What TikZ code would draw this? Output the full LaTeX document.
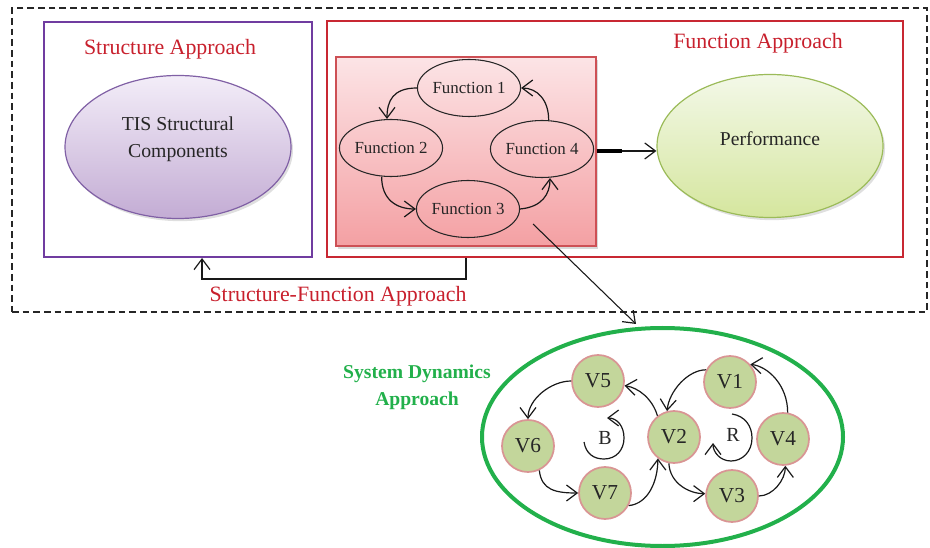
\documentclass[tikz,border=0pt]{standalone}
\usepackage{fontspec}
\setmainfont{Liberation Serif}
\usetikzlibrary{shapes.geometric,arrows.meta,fit,shadows}
\definecolor{appred}{RGB}{200,32,45}
\definecolor{boxred}{RGB}{200,40,50}
\definecolor{boxpurple}{RGB}{112,60,160}
\definecolor{tisline}{RGB}{128,96,165}
\definecolor{tistop}{RGB}{243,237,248}
\definecolor{tisbot}{RGB}{195,172,212}
\definecolor{perfline}{RGB}{155,187,89}
\definecolor{perftop}{RGB}{243,248,232}
\definecolor{perfbot}{RGB}{213,230,158}
\definecolor{pinkline}{RGB}{205,80,85}
\definecolor{pinktop}{RGB}{252,228,230}
\definecolor{pinkbot}{RGB}{244,160,163}
\definecolor{sdgreen}{RGB}{34,176,75}
\definecolor{vfill}{RGB}{195,214,155}
\definecolor{vline}{RGB}{217,149,148}
\begin{document}
\begin{tikzpicture}[x=0.75pt,y=-0.75pt,
  barb/.style={-{Straight Barb[length=8pt,width=12pt,line width=0.9pt]}},
  conn/.style={draw=black!90,line width=0.9pt,barb},
  fn/.style={ellipse,draw=black!85,line width=0.8pt,minimum width=73.5pt,
    minimum height=42.75pt,inner sep=0pt,text=black!85,
    font=\fontsize{12.7}{15}\selectfont},
  var/.style={circle,fill=vfill,draw=vline,line width=1.3pt,minimum size=39pt,
    inner sep=0pt,text=black!85,font=\fontsize{16}{19}\selectfont},
  lbl/.style={text=appred,font=\fontsize{16.4}{19}\selectfont},
  bigoval/.style={ellipse,minimum width=169.5pt,minimum height=107.25pt,
    inner sep=0pt,line width=0.9pt,
    drop shadow={opacity=0.25,shadow xshift=1.5pt,shadow yshift=-2pt}},
  tick/.style={line width=2.2pt}]
\useasboundingbox (0,0) rectangle (930,548);

% outer dashed frame
\node[fit={(12,8) (927,312)},inner sep=0pt,draw=black!85,line width=1.1pt,
  dash pattern=on 5pt off 3pt] (outer) {};

% structure and function frames
\node[fit={(44,22) (312,257)},inner sep=0pt,draw=boxpurple,line width=1.5pt] (sabox) {};
\node[fit={(327,21) (903,257)},inner sep=0pt,draw=boxred,line width=1.5pt] (fabox) {};
\node[lbl] (satitle) at (170,49) {Structure Approach};
\node[lbl] (fatitle) at (758,43) {Function Approach};

% structural components
\node[bigoval,draw=tisline,top color=tistop,bottom color=tisbot] (tis) at (178,147) {};
\node[text=black!85,align=center,font=\fontsize{14.8}{20}\selectfont] (tistext) at (178,139)
  {TIS Structural\\Components};

% function cycle
\node[fit={(336,57) (596,246)},inner sep=0pt,draw=pinkline,line width=0.8pt,
  top color=pinktop,bottom color=pinkbot,
  drop shadow={opacity=0.3,shadow xshift=1.5pt,shadow yshift=-2pt}] (fbox) {};
\node[fn] (f1) at (469,88) {Function 1};
\node[fn] (f2) at (391,148) {Function 2};
\node[fn] (f4) at (542,149) {Function 4};
\node[fn] (f3) at (468,209) {Function 3};
\draw[conn] (f1.west) .. controls +(-24,0) and +(0,-18) .. ([xshift=-3pt]f2.north);
\draw[conn] ([xshift=-7pt]f2.south) .. controls +(0,22) and +(-20,0) .. (f3.west);
\draw[conn] (f3.east) .. controls +(22,-2) and +(0,16) .. ([xshift=6pt]f4.south);
\draw[conn] ([xshift=5pt]f4.north) .. controls +(0,-20) and +(16,0) .. (f1.east);

% performance
\node[bigoval,draw=perfline,top color=perftop,bottom color=perfbot] (perf) at (770,146) {};
\node[text=black!85,font=\fontsize{14.7}{18}\selectfont] (perftext) at (770,139) {Performance};

% joints on the frame edges
\draw[tick,draw=boxpurple] (312,135) -- (312,167);
\draw[tick,draw=boxred] (327,135) -- (327,167);
\draw[tick,draw=pinkline,line width=1.6pt] (336,135) -- (336,167);
\draw[tick,draw=pinkline,line width=1.6pt] (596,135) -- (596,167);

% function box to performance
\coordinate (thk) at (622,151);
\draw[line width=3pt] (fbox.east |- thk) -- (thk);
\draw[conn,line width=1.3pt] (thk) -- (perf.west |- thk);

% structure-function feedback
\coordinate (sfa) at (466,279);
\coordinate (sfb) at (202,279);
\draw[conn,line width=1.3pt] (fabox.south -| sfa) -- (sfa) -- (sfb) -- (sabox.south -| sfb);
\node[lbl] (sftitle) at (338,296) {Structure-Function Approach};

% system dynamics
\node[ellipse,draw=sdgreen,line width=3pt,minimum width=270.75pt,minimum height=163.5pt,
  inner sep=0pt] (sd) at (662.5,437) {};
\node[text=sdgreen,align=center,font=\bfseries\fontsize{14.7}{20}\selectfont] (sdtitle)
  at (417,387) {System Dynamics\\Approach};

\coordinate (zoomfrom) at (533,224);
\coordinate (zoomto) at (636,324);
\draw[conn,line width=0.8pt] (zoomfrom) -- (zoomto);

\node[var] (v5) at (598,381) {V5};
\node[var] (v1) at (730,382) {V1};
\node[var] (v6) at (528,446) {V6};
\node[var] (v2) at (674,437) {V2};
\node[var] (v4) at (783,439) {V4};
\node[var] (v7) at (605,493) {V7};
\node[var] (v3) at (732,496) {V3};

\draw[conn] (v5.west) .. controls +(-20,0) and +(0,-20) .. (v6.north);
\draw[conn] (v6.-65) .. controls +(2,20) and +(-22,0) .. (v7.west);
\draw[conn] (v7.-28) .. controls +(20,-2) and +(0,22) .. (v2.-127);
\draw[conn] (v2.128) .. controls +(-5,-17) and +(14,2) .. (v5.-10);
\draw[conn] (v1.153) .. controls +(-18,0) and +(2,-20) .. (v2.105);
\draw[conn] (v2.-101) .. controls +(1,20) and +(-16,0) .. (v3.175);
\draw[conn] (v3.0) .. controls +(14,0) and +(0,14) .. (v4.-85);
\draw[conn] (v4.80) .. controls +(0,-27) and +(18,2) .. (v1.41);

% loop polarities
\node[text=black!85,font=\fontsize{15}{18}\selectfont] (bl) at (605,438) {B};
\node[text=black!85,font=\fontsize{15}{18}\selectfont] (rl) at (733,435) {R};
\draw[conn] (584,442) .. controls (586,454) and (594,459) .. (604,459)
  .. controls (616,459) and (624,450) .. (624,438)
  .. controls (624,426) and (617,418) .. (607,418);
\draw[conn] (732,414) .. controls (745,416) and (752,426) .. (752,438)
  .. controls (752,452) and (742,461) .. (731,461)
  .. controls (720,461) and (713,452) .. (713,443);
\end{tikzpicture}
\end{document}
